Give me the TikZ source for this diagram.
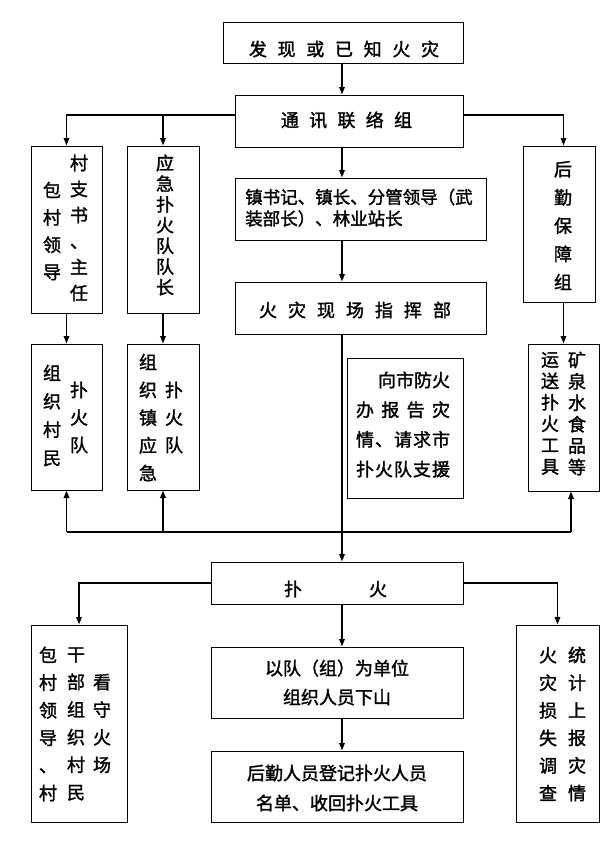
\documentclass[tikz,border=0pt]{standalone}
\usepackage{fontspec}
\usepackage{tikz}
\usetikzlibrary{arrows.meta}
\newfontfamily\cjk[FakeBold=1.6,AutoFakeBold=1.6]{Noto Sans CJK SC}
% spaced-out characters for the wide box titles
\newcommand\spread[2]{\def\spreadgap{#1}\spreadfirst#2\relax}
\def\spreadfirst#1{#1\spreadnext}
\def\spreadnext#1{\ifx\relax#1\else\hspace{\spreadgap}#1\expandafter\spreadnext\fi}

\begin{document}
\begin{tikzpicture}[x=1pt,y=-1pt,
          box/.style={draw,line width=1pt,inner sep=0pt},
          flow/.style={-{Triangle[length=7.5pt,width=5.5pt]},line width=1.6pt},
          wire/.style={line width=1.6pt},
          title/.style={inner sep=0pt,font=\cjk\bfseries\fontsize{18}{22}\selectfont},
          col/.style={inner sep=0pt,align=center,
            font=\cjk\bfseries\fontsize{18}{#1}\selectfont},
          para/.style={inner sep=0pt,align=center,
            font=\cjk\bfseries\fontsize{18}{#1}\selectfont}]
        \useasboundingbox[fill=white] (0,0) rectangle (611,852);

        % boxes
        \node[box,minimum width=240,minimum height=41] (found) at (343,42.5) {};
        \node[box,minimum width=228,minimum height=52] (comm) at (349,121) {};
        \node[box,minimum width=71,minimum height=167] (village) at (66.5,229.5) {};
        \node[box,minimum width=72,minimum height=167] (teamlead) at (163,229.5) {};
        \node[box,minimum width=251,minimum height=62] (leaders) at (360.5,209) {};
        \node[box,minimum width=251,minimum height=52] (command) at (360.5,308) {};
        \node[box,minimum width=72,minimum height=156] (logistics) at (559,224) {};
        \node[box,minimum width=71,minimum height=146] (villagers) at (66.5,417) {};
        \node[box,minimum width=72,minimum height=146] (townteam) at (163,417) {};
        \node[box,minimum width=116,minimum height=140] (report) at (405,428) {};
        \node[box,minimum width=71,minimum height=147] (supplies) at (563.5,417.5) {};
        \node[box,minimum width=252,minimum height=42] (fight) at (337,583) {};
        \node[box,minimum width=96,minimum height=197] (guard) at (79,723.5) {};
        \node[box,minimum width=252,minimum height=71] (descend) at (337,682.5) {};
        \node[box,minimum width=252,minimum height=71] (register) at (337,786.5) {};
        \node[box,minimum width=83,minimum height=197] (loss) at (557.5,723.5) {};

        % texts
        \node[title] (foundtxt) at (344,49) {\spread{10.7pt}{发现或已知火灾}};
        \node[title] (commtxt) at (346.5,120) {\spread{10.3pt}{通讯联络组}};
        \node[col=27.3] (villagetxta) at (52,231) {包\\村\\领\\导};
        \node[col=26] (villagetxtb) at (79,228) {村\\支\\书\\、\\主\\任};
        \node[col=20.7] (teamleadtxt) at (165,225) {应\\急\\扑\\火\\队\\队\\长};
        \node[inner sep=0pt,anchor=west,align=left,
              font=\cjk\bfseries\fontsize{17.5}{21.5}\selectfont] (leaderstxt)
          at (245,207.75) {镇书记、镇长、分管领导（武\\装部长）、林业站长};
        \node[title] (commandtxt) at (355,310) {\spread{11pt}{火灾现场指挥部}};
        \node[col=28.25] (logisticstxt) at (563,225.5) {后\\勤\\保\\障\\组};
        \node[col=28.3] (villagerstxta) at (52,415.5) {组\\织\\村\\民};
        \node[col=27.5] (villagerstxtb) at (79,417.5) {扑\\火\\队};
        \node[col=27.75] (townteamtxta) at (148,417.5) {组\\织\\镇\\应\\急};
        \node[col=27.5] (townteamtxtb) at (174,417.5) {扑\\火\\队};
        \node[inner sep=0pt,align=left,text width=94,
              font=\cjk\bfseries\fontsize{18}{29.7}\selectfont] (reporttxt) at (403,424.5)
          {\hfill 向市防火\\办\hfill 报\hfill 告\hfill 灾\\
           情\hfill 、\hfill 请\hfill 求\hfill 市\\扑\hfill 火\hfill 队\hfill 支\hfill 援};
        \node[col=21.4] (suppliestxta) at (550,413.5) {运\\送\\扑\\火\\工\\具};
        \node[col=21.4] (suppliestxtb) at (577,413.5) {矿\\泉\\水\\食\\品\\等};
        \node[title] (fighttxt) at (335.5,589) {\spread{67pt}{扑火}};
        \node[col=27.6] (guardtxta) at (48,724) {包\\村\\领\\导\\、\\村};
        \node[col=27.6] (guardtxtb) at (76,724) {干\\部\\组\\织\\村\\民};
        \node[col=27.6] (guardtxtc) at (102,723.5) {看\\守\\火\\场};
        \node[para=29] (descendtxt) at (337,682.5) {以队（组）为单位\\组织人员下山};
        \node[para=30] (registertxt) at (337,788)
          {后勤人员登记扑火人员\\名单、收回扑火工具};
        \node[col=27.6] (losstxta) at (548,724) {火\\灾\\损\\失\\调\\查};
        \node[col=27.6] (losstxtb) at (577,724) {统\\计\\上\\报\\灾\\情};

        % connectors
        \coordinate (spine) at (342,0);
        \coordinate (bus1) at (0,115);
        \coordinate (bus2) at (0,532);
        \coordinate (supplyup) at (571,0);
        \draw[flow] (found.south -| spine) -- (comm.north -| spine);
        \draw[flow] (comm.west |- bus1) -| (village.north);
        \draw[flow] (teamlead.north |- bus1) -- (teamlead.north);
        \draw[flow] (comm.east |- bus1) -| (supplies.north |- logistics.north);
        \draw[flow] (comm.south -| spine) -- (leaders.north -| spine);
        \draw[flow] (leaders.south -| spine) -- (command.north -| spine);
        \draw[flow] (village.south) -- (villagers.north);
        \draw[flow] (teamlead.south) -- (townteam.north);
        \draw[flow] (supplies.north |- logistics.south) -- (supplies.north);
        \draw[flow] (command.south -| spine) -- (fight.north -| spine);
        \draw[wire] (villagers.south |- bus2) -- (supplyup |- bus2);
        \draw[flow] (villagers.south |- bus2) -- (villagers.south);
        \draw[flow] (townteam.south |- bus2) -- (townteam.south);
        \draw[flow] (supplyup |- bus2) -- (supplyup |- supplies.south);
        \draw[flow] (fight.west) -| (guard.north);
        \draw[flow] (fight.east) -| (loss.north);
        \draw[flow] (fight.south -| spine) -- (descend.north -| spine);
        \draw[flow] (descend.south -| spine) -- (register.north -| spine);
      \end{tikzpicture}
\end{document}
